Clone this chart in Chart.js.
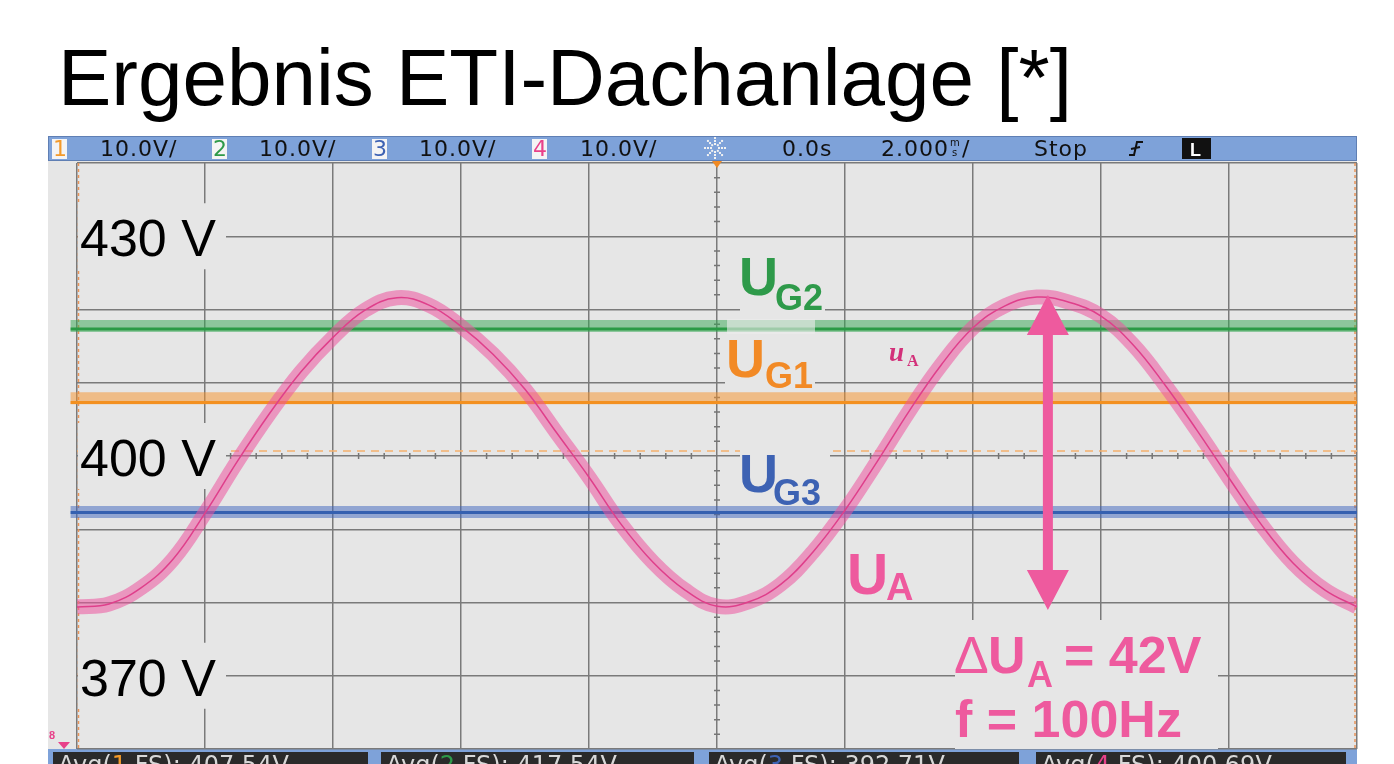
<!DOCTYPE html>
<html>
<head>
<meta charset="utf-8">
<script src="https://cdn.jsdelivr.net/npm/chart.js@4.4.1/dist/chart.umd.min.js"></script>
<style>
  html, body { margin: 0; padding: 0; background: #fff; overflow: hidden; }
  canvas { display: block; }
</style>
</head>
<body>
<canvas id="scopeChart" width="1394" height="764"></canvas>
<script>
// time axis in ms (2 ms/div, 0.0s in the middle)
const timeMs = [-10, -9.5, -9, -8.5, -8, -7.5, -7, -6.5, -6, -5.5, -5, -4.5, -4, -3.5, -3, -2.5, -2, -1.5, -1, -0.5,
  0, 0.5, 1, 1.5, 2, 2.5, 3, 3.5, 4, 4.5, 5, 5.5, 6, 6.5, 7, 7.5, 8, 8.5, 9, 9.5, 10];
// u_A, volts
const uA = [379.4, 379.8, 382.0, 385.9, 392.2, 399.2, 405.7, 411.5, 416.2, 419.9, 421.6, 420.6, 417.7, 413.9, 409.1,
  403.1, 397.1, 390.7, 385.5, 381.7, 379.5, 380.1, 382.5, 386.9, 392.6, 399.2, 406.1, 412.4, 417.5, 420.5, 421.7,
  421.0, 419.1, 415.2, 409.7, 403.5, 397.0, 390.7, 385.4, 381.7, 379.4];

// the flat channels: highlighter band and the trace inside it
const levelTimes = [-10.1, 10];
const uG2Band = [417.75, 417.75];
const uG2Trace = [417.35, 417.35];
const uG1Band = [407.9, 407.9];
const uG1Trace = [407.3, 407.3];
const uG3Band = [392.35, 392.35];
const uG3Trace = [392.3, 392.3];
const trigLevel = 400.69;

const voltTicks = [430, 400, 370];
const chanNames = ['1', '2', '3', '4'];
const chanScale = ['10.0V/', '10.0V/', '10.0V/', '10.0V/'];
const avgValues = ['407.54V', '417.54V', '392.71V', '400.69V'];

const chanColors = ['#f39a2a', '#2e9a4a', '#3d62b3', '#e8418a'];
const PINK = '#ee5a9e';
const SCREEN = '#e6e6e6';
const SANS = '"Liberation Sans", Arial, sans-serif';
const MONO = '"DejaVu Sans", sans-serif';

const pts = (xs, ys) => xs.map((x, i) => ({ x: x, y: ys[i] }));

function label(c, parts) {
  // parts: [text, x, y, font, color]
  parts.forEach(p => {
    c.font = p[3];
    c.fillStyle = p[4];
    c.fillText(p[0], p[1], p[2]);
  });
}

function box(c, x1, y1, x2, y2, col) {
  c.fillStyle = col;
  c.fillRect(x1, y1, x2 - x1, y2 - y1);
}

const scopeFrame = {
  id: 'scopeFrame',
  beforeDraw(chart) {
    const c = chart.ctx;
    c.save();
    box(c, 0, 0, 1394, 764, '#fff');

    c.fillStyle = '#000';
    c.font = '80px ' + SANS;
    c.fillText('Ergebnis ETI-Dachanlage [*]', 58, 105);

    // scope screen + top status bar
    box(c, 48, 136, 1357, 764, SCREEN);
    box(c, 48, 136, 1357, 161, '#7ea2d9');
    c.strokeStyle = '#5f7fb4';
    c.lineWidth = 1;
    c.strokeRect(48.5, 136.5, 1308, 24);

    const chanBox = [52, 212, 372, 532];
    const scaleX = [100, 259, 419, 580];
    c.font = '22px ' + MONO;
    c.letterSpacing = '1px';
    chanNames.forEach((n, i) => {
      box(c, chanBox[i], 139, chanBox[i] + 15, 159, '#f4f4f4');
      c.fillStyle = chanColors[i];
      c.fillText(n, chanBox[i] + 1, 156);
      c.fillStyle = '#111';
      c.fillText(chanScale[i], scaleX[i], 156);
    });
    c.fillText('0.0s', 782, 156);
    c.fillText('2.000', 881, 156);
    c.font = '10px ' + MONO;
    c.letterSpacing = '0px';
    c.fillText('m', 950, 146);
    c.fillText('s', 952, 156);
    c.font = '22px ' + MONO;
    c.letterSpacing = '1px';
    c.fillText('/', 962, 156);
    c.fillText('Stop', 1034, 156);
    c.letterSpacing = '0px';

    // sun symbol
    for (let k = 0; k < 8; k++) {
      const a = k * Math.PI / 4;
      for (let r = 4; r <= 11; r += 3) {
        c.fillStyle = '#f2f2f2';
        c.fillRect(715 + Math.cos(a) * r - 1, 148 + Math.sin(a) * r - 1, 2, 2);
      }
    }
    // trigger edge symbol
    c.strokeStyle = '#111';
    c.lineWidth = 2;
    c.beginPath();
    c.moveTo(1129, 155); c.lineTo(1134, 155); c.lineTo(1137, 142); c.lineTo(1143, 142);
    c.moveTo(1131, 149); c.lineTo(1140, 147);
    c.stroke();
    box(c, 1182, 138, 1211, 159, '#111');
    c.font = 'bold 18px ' + SANS;
    c.fillStyle = '#fff';
    c.fillText('L', 1190, 156);

    // bottom measurement bar (cut by the page edge)
    box(c, 48, 749, 1357, 764, '#7ea2d9');
    const avgBox = [[53, 368], [381, 694], [709, 1019], [1036, 1346]];
    c.font = '24px ' + MONO;
    avgBox.forEach((b, i) => {
      box(c, b[0], 752, b[1], 764, '#2a2a2a');
      let x = b[0] + 5;
      c.fillStyle = '#d8d8d8';
      c.fillText('Avg(', x, 773);
      x += c.measureText('Avg(').width;
      c.fillStyle = chanColors[i];
      c.fillText(chanNames[i], x, 773);
      x += c.measureText(chanNames[i]).width;
      c.fillStyle = '#d8d8d8';
      c.fillText(' FS): ' + avgValues[i], x, 773);
    });
    c.restore();
  },

  beforeDatasetsDraw(chart) {
    const c = chart.ctx;
    const xs = chart.scales.x, ys = chart.scales.y;
    const a = chart.chartArea;
    const x0 = xs.getPixelForValue(0), y0 = ys.getPixelForValue(400);
    c.save();

    // minor ticks on the centre axes
    c.strokeStyle = '#767676';
    c.lineWidth = 1.5;
    c.beginPath();
    for (let k = -25; k <= 25; k++) {
      if (k % 5 === 0) continue;
      const px = xs.getPixelForValue(k * 0.4);
      c.moveTo(px, y0 - 3); c.lineTo(px, y0 + 3);
    }
    for (let k = -20; k <= 20; k++) {
      if (k % 5 === 0) continue;
      const py = ys.getPixelForValue(400 + k * 2);
      c.moveTo(x0 - 3, py); c.lineTo(x0 + 3, py);
    }
    c.stroke();

    // trigger level (dashed) and screen edges
    c.strokeStyle = '#f5b16e';
    c.lineWidth = 1.5;
    c.setLineDash([8, 6]);
    const yt = ys.getPixelForValue(trigLevel);
    c.beginPath();
    c.moveTo(a.left, yt); c.lineTo(a.right, yt);
    c.stroke();
    c.setLineDash([3, 3]);
    c.strokeStyle = '#e8945a';
    c.beginPath();
    c.moveTo(a.left + 1.5, a.top); c.lineTo(a.left + 1.5, a.bottom);
    c.moveTo(a.right - 2, a.top); c.lineTo(a.right - 2, a.bottom);
    c.stroke();
    c.setLineDash([]);

    // trigger position marker + ground marker
    c.fillStyle = '#f08a24';
    c.beginPath();
    c.moveTo(x0 - 5, 161); c.lineTo(x0 + 5, 161); c.lineTo(x0, 168); c.closePath();
    c.fill();
    c.fillStyle = '#e8418a';
    c.beginPath();
    c.moveTo(58, 742); c.lineTo(70, 742); c.lineTo(64, 749); c.closePath();
    c.fill();
    c.font = 'bold 11px ' + SANS;
    c.fillText('8', 49, 739);

    // label backgrounds hide the grid
    voltTicks.forEach(v => {
      const py = ys.getPixelForValue(v);
      box(c, 78, py - 33, 226, py + 33, SCREEN);
    });
    box(c, 740, 255, 825, 318, SCREEN);
    box(c, 725, 335, 815, 392, SCREEN);
    box(c, 740, 448, 830, 505, SCREEN);
    box(c, 848, 545, 915, 600, SCREEN);
    box(c, 955, 620, 1218, 749, SCREEN);
    c.restore();
  },

  afterDatasetsDraw(chart) {
    const c = chart.ctx;
    const xs = chart.scales.x, ys = chart.scales.y;
    c.save();
    box(c, 727, 319, 815, 334, 'rgba(236,236,236,0.6)');

    c.fillStyle = '#000';
    c.font = '52px ' + SANS;
    voltTicks.forEach(v => {
      c.fillText(v + ' V', 80, ys.getPixelForValue(v) + 20);
    });

    const big = 'bold 54px ' + SANS, sub = 'bold 36px ' + SANS;
    label(c, [['U', 739, 295, big, chanColors[1]], ['G2', 775, 310, sub, chanColors[1]]]);
    label(c, [['U', 726, 377, big, '#f28a26'], ['G1', 765, 388, sub, '#f28a26']]);
    label(c, [['U', 739, 492, big, chanColors[2]], ['G3', 773, 505, sub, chanColors[2]]]);
    label(c, [['U', 847, 594, 'bold 57px ' + SANS, PINK], ['A', 886, 600, 'bold 38px ' + SANS, PINK]]);
    label(c, [['u', 889, 361, 'bold italic 27px "Liberation Serif", serif', '#d3317a'],
      ['A', 907, 366, 'bold 16px "Liberation Serif", serif', '#d3317a']]);

    // double arrow spanning the u_A swing
    const ax = xs.getPixelForValue(5.17);
    const yTop = ys.getPixelForValue(Math.max(...uA)) - 2;
    const yBot = ys.getPixelForValue(Math.min(...uA)) + 3;
    c.fillStyle = PINK;
    c.beginPath();
    c.moveTo(ax, yTop);
    c.lineTo(ax + 21, yTop + 40);
    c.lineTo(ax + 5, yTop + 40);
    c.lineTo(ax + 5, yBot - 40);
    c.lineTo(ax + 21, yBot - 40);
    c.lineTo(ax, yBot);
    c.lineTo(ax - 21, yBot - 40);
    c.lineTo(ax - 5, yBot - 40);
    c.lineTo(ax - 5, yTop + 40);
    c.lineTo(ax - 21, yTop + 40);
    c.closePath();
    c.fill();

    label(c, [['\u0394', 954, 673, '52px ' + SANS, PINK], ['U', 988, 673, 'bold 52px ' + SANS, PINK],
      ['A', 1027, 687, 'bold 36px ' + SANS, PINK], ['= 42V', 1064, 673, 'bold 52px ' + SANS, PINK],
      ['f = 100Hz', 955, 737, 'bold 52px ' + SANS, PINK]]);
    c.restore();
  }
};

const flat = (ys, color, width, order) => ({
  data: pts(levelTimes, ys),
  borderColor: color,
  borderWidth: width,
  pointRadius: 0,
  order: order,
  clip: { left: 10, right: 0, top: 0, bottom: 0 }
});

new Chart(document.getElementById('scopeChart'), {
  type: 'line',
  data: {
    datasets: [
      { data: pts(timeMs, uA), borderColor: '#df3f8b', borderWidth: 1.5, tension: 0.4, pointRadius: 0, order: 1 },
      { data: pts(timeMs, uA), borderColor: 'rgba(236,84,158,0.55)', borderWidth: 15, tension: 0.4, pointRadius: 0, order: 2 },
      flat(uG2Trace, '#2a9a45', 3, 3),
      flat(uG2Band, 'rgba(50,165,80,0.5)', 12, 4),
      flat(uG1Trace, '#f39020', 3, 5),
      flat(uG1Band, 'rgba(247,146,40,0.5)', 12, 6),
      flat(uG3Trace, '#3560b0', 3, 7),
      flat(uG3Band, 'rgba(60,100,190,0.5)', 12, 8)
    ]
  },
  options: {
    responsive: false,
    animation: false,
    devicePixelRatio: 1,
    layout: { padding: { left: 77, right: 37, top: 163, bottom: 15 } },
    plugins: { legend: { display: false }, tooltip: { enabled: false } },
    scales: {
      x: {
        type: 'linear', min: -10, max: 10,
        ticks: { stepSize: 2, display: false },
        grid: { color: '#7a7a7a', lineWidth: 1.5, drawTicks: false },
        border: { display: false },
        afterFit: (s) => { s.height = 0; }
      },
      y: {
        min: 360, max: 440,
        ticks: { stepSize: 10, display: false },
        grid: { color: '#7a7a7a', lineWidth: 1.5, drawTicks: false },
        border: { display: false },
        afterFit: (s) => { s.width = 0; }
      }
    }
  },
  plugins: [scopeFrame]
});
</script>
</body>
</html>
